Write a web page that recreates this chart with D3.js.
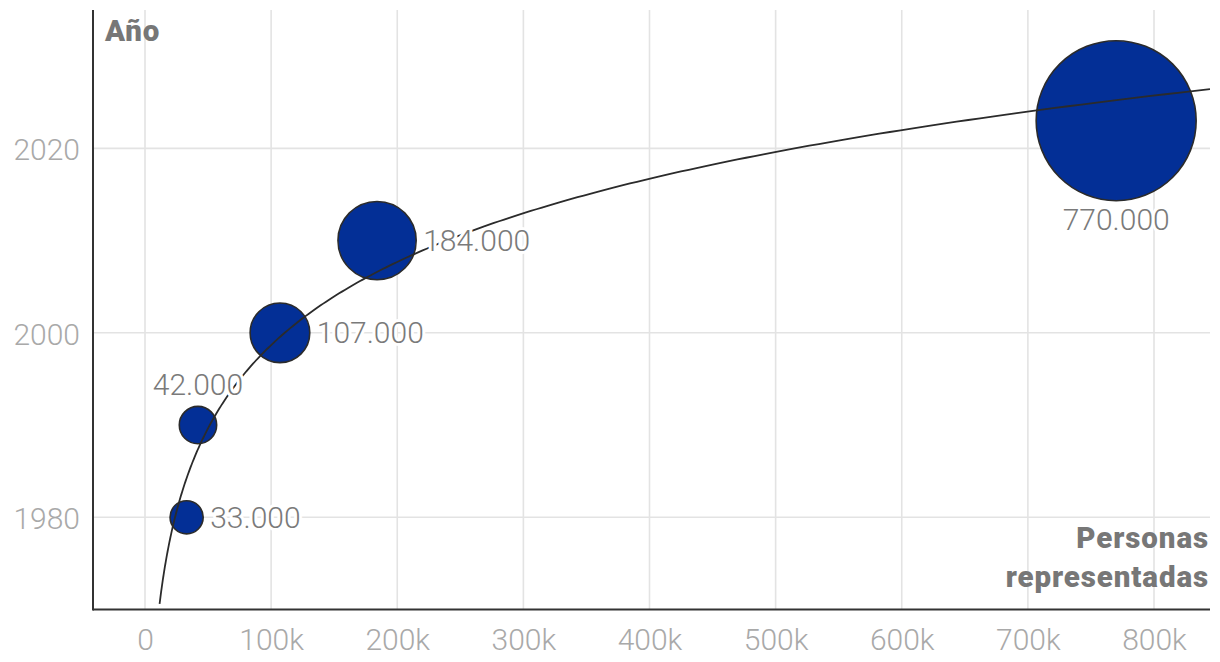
<!DOCTYPE html>
<html><head><meta charset="utf-8">
<script src="https://cdn.jsdelivr.net/npm/d3@7/dist/d3.min.js"></script>
<style>
html,body{margin:0;padding:0;background:#fff;}
svg{display:block;font-family:Roboto,"Liberation Sans",sans-serif;}
</style></head>
<body>
<svg id="chart" width="1220" height="662"></svg>
<script>
// Data
const years = [1980, 1990, 2000, 2010, 2023];
const people = [33000, 42000, 107000, 184000, 770000];
const labels = ["33.000", "42.000", "107.000", "184.000", "770.000"];
const labelPos = ["right", "top", "right", "right", "bottom"];
const xTicks = [0, 100000, 200000, 300000, 400000, 500000, 600000, 700000, 800000];
const xTickLabels = ["0", "100k", "200k", "300k", "400k", "500k", "600k", "700k", "800k"];
const yTicks = [1980, 2000, 2020];

const svg = d3.select("#chart");
const L = 93, R = 1210, T = 10, B = 609.5;

const x = d3.scaleLinear().domain([-41230, 844400]).range([L, R]);
const y = d3.scaleLinear().domain([1970, 2035]).range([B, T]);
const r = d3.scaleSqrt().domain([0, 770000]).range([0, 80]);

// gridlines
const grid = svg.append("g");
grid.selectAll("line.vx").data(xTicks).join("line")
  .attr("x1", d => x(d)).attr("x2", d => x(d)).attr("y1", T).attr("y2", B)
  .attr("stroke", "#e3e3e3").attr("stroke-width", 1.6);
grid.selectAll("line.hy").data(yTicks).join("line")
  .attr("x1", L).attr("x2", R).attr("y1", d => y(d)).attr("y2", d => y(d))
  .attr("stroke", "#e3e3e3").attr("stroke-width", 1.6);

// tick labels via axes
const xAxis = svg.append("g").attr("transform", `translate(0,${B})`)
  .call(d3.axisBottom(x).tickValues(xTicks).tickFormat((d, i) => xTickLabels[i]).tickSize(0).tickPadding(19));
xAxis.select(".domain").remove();
xAxis.selectAll("text").attr("font-size", 30).attr("fill", "#a9a9a9").attr("font-family", "Roboto").attr("font-weight", 300);

const yAxis = svg.append("g").attr("transform", `translate(${L},0)`)
  .call(d3.axisLeft(y).tickValues(yTicks).tickFormat(d3.format("d")).tickSize(0).tickPadding(13));
yAxis.select(".domain").remove();
yAxis.selectAll("text").attr("font-size", 30).attr("dy", "0.38em").attr("fill", "#a9a9a9").attr("font-family", "Roboto").attr("font-weight", 300);

// circles
const pts = years.map((yr, i) => ({yr, v: people[i], label: labels[i], pos: labelPos[i]}));
svg.append("g").selectAll("circle").data(pts).join("circle")
  .attr("cx", d => x(d.v)).attr("cy", d => y(d.yr)).attr("r", d => r(d.v))
  .attr("fill", "#032f96").attr("stroke", "#2b2b2b").attr("stroke-width", 1.6);

// logarithmic trend line fitted to the data: year = a + b*ln(people)
const lx = people.map(v => Math.log(v / 1000));
const mx = d3.mean(lx), my = d3.mean(years);
const b = d3.sum(lx.map((v, i) => (v - mx) * (years[i] - my))) / d3.sum(lx.map(v => (v - mx) ** 2));
const a = my - b * mx;
const xStart = Math.exp((1970.6 - a) / b) * 1000;
const xs = d3.range(0, 301).map(i => xStart * Math.pow(844400 / xStart, i / 300));
svg.append("clipPath").attr("id", "plotclip").append("rect")
  .attr("x", L).attr("y", T).attr("width", R - L).attr("height", B - T);
svg.append("path").datum(xs)
  .attr("clip-path", "url(#plotclip)")
  .attr("d", d3.line().x(d => x(d)).y(d => y(a + b * Math.log(d / 1000))))
  .attr("fill", "none").attr("stroke", "#2b2b2b").attr("stroke-width", 1.8);

// labels with white halo
svg.append("g").selectAll("text").data(pts).join("text")
  .attr("font-size", 30).attr("fill", "#7a7a7a").attr("font-weight", 300)
  .attr("stroke", "#fff").attr("stroke-width", 6).attr("paint-order", "stroke").attr("stroke-linejoin", "round")
  .text(d => d.label)
  .each(function(d) {
    const cx = x(d.v), cy = y(d.yr), rr = r(d.v);
    const t = d3.select(this);
    if (d.pos === "right") t.attr("x", cx + rr + 7).attr("y", cy + 10.5).attr("text-anchor", "start");
    else if (d.pos === "top") t.attr("x", cx).attr("y", cy - rr - 11).attr("text-anchor", "middle");
    else t.attr("x", cx).attr("y", cy + rr + 29).attr("text-anchor", "middle");
  });

// axis lines
svg.append("line").attr("x1", L).attr("x2", L).attr("y1", T).attr("y2", B + 1)
  .attr("stroke", "#333").attr("stroke-width", 2);
svg.append("line").attr("x1", L).attr("x2", R).attr("y1", B).attr("y2", B)
  .attr("stroke", "#333").attr("stroke-width", 2);

// axis titles
svg.append("text").attr("x", 105).attr("y", 40.5).attr("font-size", 29.5).attr("font-weight", 900)
  .attr("letter-spacing", 0.8).attr("fill", "#777").text("Año");
const xt = svg.append("text").attr("text-anchor", "end").attr("font-size", 29.5).attr("font-weight", 900)
  .attr("letter-spacing", 0.9).attr("fill", "#777");
xt.append("tspan").attr("x", 1209).attr("y", 548).text("Personas");
xt.append("tspan").attr("x", 1209).attr("y", 587).text("representadas");
</script>
</body></html>
